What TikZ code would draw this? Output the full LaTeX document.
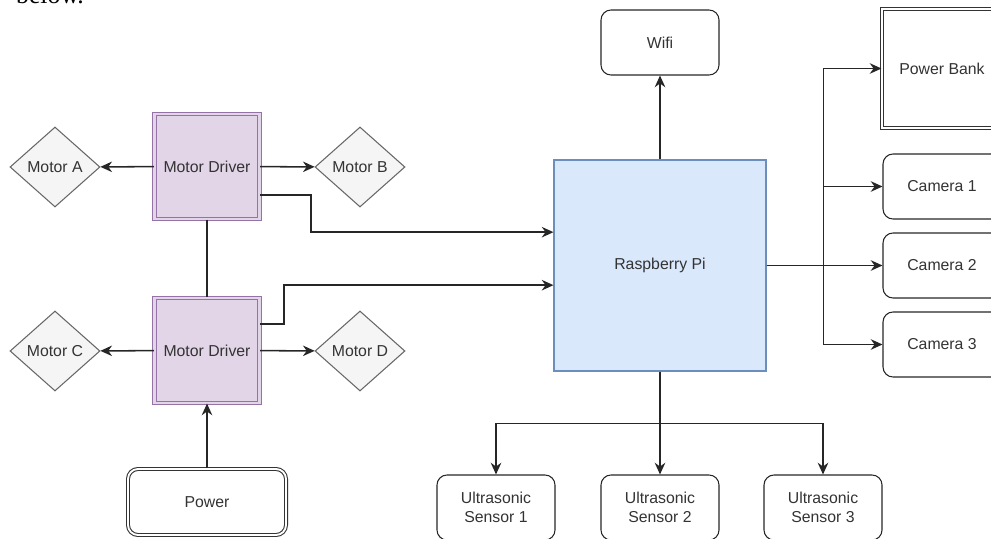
\documentclass[tikz,border=0pt]{standalone}
\usepackage{fontspec}
\setmainfont{Liberation Sans}
\newfontfamily\bodyserif{Liberation Serif}
\usetikzlibrary{shapes.geometric,arrows.meta}
\definecolor{drvfill}{HTML}{E1D5E7}
\definecolor{drvline}{HTML}{9673A6}
\definecolor{pifill}{HTML}{DAE8FC}
\definecolor{piline}{HTML}{6C8EBF}
\definecolor{motfill}{HTML}{F5F5F5}
\definecolor{motline}{HTML}{666666}
\definecolor{txt}{HTML}{333333}

\begin{document}
\begin{tikzpicture}[x=0.03cm, y=-0.03cm,
    font=\fontsize{13.5}{16}\selectfont, text=txt,
    driver/.style={draw=drvline, fill=drvfill, double=drvfill, double distance=1.8pt,
        line width=0.9pt, minimum width=3.15cm, minimum height=3.15cm, inner sep=0pt},
    motor/.style={diamond, draw=motline, fill=motfill, line width=0.9pt,
        minimum width=2.7cm, minimum height=2.4cm, inner sep=0pt},
    box/.style={draw=black!85, rounded corners=0.3cm, line width=0.9pt,
        minimum width=3.54cm, minimum height=1.95cm, align=center, inner sep=0pt},
    twin/.style={draw=black!80, double=white, double distance=1.6pt, line width=0.9pt, inner sep=0pt},
    wire/.style={draw=black!85, line width=1.3pt, -{Stealth[length=10pt,width=9pt]}}]
    \useasboundingbox (0,0) rectangle (991,539);

    % text cut off at the top of the page
    \node[anchor=base west, text=black, font=\bodyserif\fontsize{22}{24}\selectfont] (below) at (12,4) {below.};

    % motor drivers and motors
    \node[driver] (md1) at (207,166.5) {Motor Driver};
    \node[driver] (md2) at (207,350.5) {Motor Driver};
    \node[motor] (ma) at (55,167) {Motor A};
    \node[motor] (mb) at (360,167) {Motor B};
    \node[motor] (mc) at (55,351) {Motor C};
    \node[motor] (mdd) at (360,351) {Motor D};
    \node[twin, rounded corners=0.3cm, minimum width=4.74cm, minimum height=1.98cm] (pwr) at (207,502) {Power};

    % controller
    \node[draw=piline, fill=pifill, line width=0.9pt, minimum width=6.36cm, minimum height=6.33cm] (rpi) at (660,265.5) {Raspberry Pi};
    \node[box] (wifi) at (660,42.5) {Wifi};
    \node[twin, minimum width=3.6cm, minimum height=3.57cm] (pbank) at (942,68.5) {Power Bank};
    \node[box] (cam1) at (942,186.5) {Camera 1};
    \node[box] (cam2) at (942,265.5) {Camera 2};
    \node[box] (cam3) at (942,344.5) {Camera 3};
    \node[box] (us1) at (496,507.5) {Ultrasonic\\Sensor 1};
    \node[box] (us2) at (660,507.5) {Ultrasonic\\Sensor 2};
    \node[box] (us3) at (823,507.5) {Ultrasonic\\Sensor 3};

    % wiring
    \draw[wire] (md1) -- (ma);
    \draw[wire] (md1) -- (mb);
    \draw[wire] (md2) -- (mc);
    \draw[wire] (md2) -- (mdd);
    \draw[wire, -] (md1) -- (md2);
    \draw[wire] (pwr) -- (md2);
    \draw[wire] ([yshift=-0.86cm]md1.east) -- ++(51,0) |- ([yshift=1cm]rpi.west);
    \draw[wire] ([yshift=0.8cm]md2.east) -- ++(24,0) |- ([yshift=-0.59cm]rpi.west);
    \draw[wire] (rpi) -- (wifi);
    \draw[wire] (rpi.east) -- (cam2.west);
    \draw[wire] (rpi.east) -- ++(57,0) |- (pbank.west);
    \draw[wire] (rpi.east) -- ++(57,0) |- (cam1.west);
    \draw[wire] (rpi.east) -- ++(57,0) |- (cam3.west);
    \draw[wire] (rpi) -- (us2);
    \draw[wire] (rpi.south) -- ++(0,52) -| (us1.north);
    \draw[wire] (rpi.south) -- ++(0,52) -| (us3.north);
\end{tikzpicture}
\end{document}
